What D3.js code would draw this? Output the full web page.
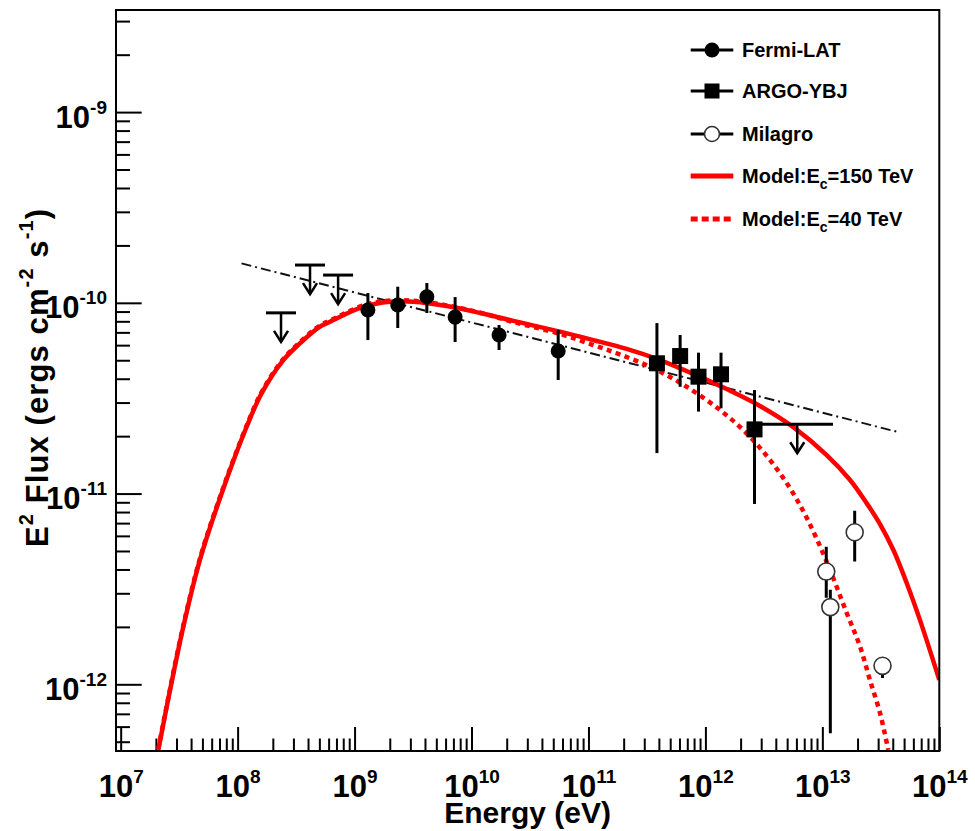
<!DOCTYPE html>
<html><head><meta charset="utf-8">
<script src="https://cdn.jsdelivr.net/npm/d3@7"></script>
<style>
body{margin:0;background:#fff;}
svg{display:block;}
text{font-family:"Liberation Sans",Arial,Helvetica,sans-serif;font-weight:bold;fill:#000;}
</style>
</head><body>
<svg id="c" width="975" height="831"></svg>
<script>
// ---------------- DATA ----------------
const fermiE  = [1.30e9, 2.34e9, 4.15e9, 7.24e9, 1.72e10, 5.51e10];
const fermiF  = [9.17e-11, 9.74e-11, 1.076e-10, 8.42e-11, 6.78e-11, 5.59e-11];
const fermiHi = [1.125e-10, 1.215e-10, 1.27e-10, 1.072e-10, 7.65e-11, 7.20e-11];
const fermiLo = [6.38e-11, 7.38e-11, 8.84e-11, 6.23e-11, 5.66e-11, 3.94e-11];

const fermiUlE = [2.35e8, 4.16e8, 7.23e8];
const fermiUlF = [8.86e-11, 1.578e-10, 1.398e-10];

const argoE  = [3.85e11, 6.08e11, 8.73e11, 1.36e12, 2.63e12];
const argoF  = [4.82e-11, 5.26e-11, 4.10e-11, 4.22e-11, 2.17e-11];
const argoHi = [7.83e-11, 6.78e-11, 5.48e-11, 5.48e-11, 3.49e-11];
const argoLo = [1.63e-11, 3.63e-11, 2.69e-11, 2.80e-11, 8.82e-12];

const argoUlE   = [6.10e12];
const argoUlELo = [3.04e12];
const argoUlEHi = [1.233e13];
const argoUlF   = [2.31e-11];

const milE  = [1.08e13, 1.17e13, 1.89e13, 3.27e13];
const milF  = [3.90e-12, 2.54e-12, 6.27e-12, 1.25e-12];
const milHi = [5.27e-12, 3.13e-12, 8.13e-12, 1.25e-12];
const milLo = [2.84e-12, 5.54e-13, 4.40e-12, 1.08e-12];

const powE = [1.08e8, 4.46e13];
const powF = [1.61e-10, 2.10e-11];

const m150E = [2.10e7, 2.61e7, 3.43e7, 4.76e7, 7.31e7, 1.194e8, 1.606e8, 2.46e8, 3.41e8, 5.06e8, 6.17e8,
  1.19e9, 2.01e9, 3.18e9, 6.14e9, 1.183e10, 2.28e10, 5.72e10, 1.099e11, 2.12e11, 4.09e11, 7.87e11,
  1.52e12, 2.93e12, 5.65e12, 1.089e13, 1.726e13, 2.39e13, 3.11e13, 4.05e13, 5.26e13, 6.84e13, 1.0e14];
const m150F = [4.53e-13, 8.97e-13, 2.00e-12, 4.49e-12, 1.004e-11, 2.24e-11, 3.36e-11, 5.01e-11, 6.13e-11, 7.50e-11, 7.96e-11,
  9.55e-11, 1.014e-10, 1.014e-10, 9.62e-11, 8.85e-11, 8.04e-11, 7.06e-11, 6.38e-11, 5.73e-11, 5.01e-11, 4.24e-11,
  3.53e-11, 2.88e-11, 2.23e-11, 1.592e-11, 1.178e-11, 8.91e-12, 6.92e-12, 5.06e-12, 3.40e-12, 2.17e-12, 1.054e-12];

const m40E = [2.10e7, 2.61e7, 3.43e7, 4.76e7, 7.31e7, 1.194e8, 1.606e8, 2.46e8, 3.41e8, 5.06e8, 6.17e8,
  1.19e9, 2.01e9, 3.18e9, 6.14e9, 1.183e10, 2.28e10, 5.72e10, 1.099e11, 1.862e11, 3.58e11, 6.92e11,
  1.334e12, 2.25e12, 3.56e12, 5.28e12, 7.35e12, 1.089e13, 1.614e13, 2.10e13, 2.55e13, 3.11e13, 3.66e13];
const m40F = [4.60e-13, 9.10e-13, 2.03e-12, 4.56e-12, 1.019e-11, 2.27e-11, 3.41e-11, 5.08e-11, 6.22e-11, 7.61e-11, 8.08e-11,
  9.69e-11, 1.029e-10, 1.025e-10, 9.70e-11, 8.88e-11, 7.93e-11, 6.87e-11, 6.01e-11, 5.36e-11, 4.54e-11, 3.63e-11,
  2.74e-11, 2.07e-11, 1.503e-11, 1.069e-11, 7.46e-12, 4.39e-12, 2.37e-12, 1.578e-12, 1.054e-12, 7.08e-13, 4.53e-13];

const xTickExps = [7, 8, 9, 10, 11, 12, 13, 14];
const yTickExps = [-12, -11, -10, -9];

const legendLabels = [
  ["Fermi-LAT"], ["ARGO-YBJ"], ["Milagro"],
  ["Model:E", "c", "=150 TeV"], ["Model:E", "c", "=40 TeV"]
];
const xTitle = "Energy (eV)";

// ---------------- CHART ----------------
const svg = d3.select("#c");
const L = 116, R = 939.3, T = 10, B = 751;
const x = d3.scaleLog().domain([9.12e6, 1e14]).range([L, R]);
const y = d3.scaleLog().domain([4.47e-13, 3.43e-9]).range([B, T]);

svg.append("defs").append("clipPath").attr("id", "clip")
  .append("rect").attr("x", L).attr("y", T).attr("width", R - L).attr("height", B - T);

// ticks
const xMinor = [];
for (let e = 7; e < 14; e++) for (let m = 2; m < 10; m++) xMinor.push(m * Math.pow(10, e));
const yMinor = [];
for (let e = -13; e <= -9; e++) for (let m = 2; m < 10; m++) {
  const v = m * Math.pow(10, e);
  if (v >= y.domain()[0] && v <= y.domain()[1]) yMinor.push(v);
}
const xMajor = xTickExps.map(e => Math.pow(10, e));
const yMajor = yTickExps.map(e => Math.pow(10, e));

function styleAxis(g) {
  g.select(".domain").remove();
  g.selectAll("line").attr("stroke", "#000").attr("stroke-width", 2);
}
svg.append("g").attr("transform", `translate(0,${B})`)
  .call(d3.axisBottom(x).tickValues(xMinor).tickSizeInner(-12.5).tickSizeOuter(0).tickFormat(""))
  .call(styleAxis);
const gxM = svg.append("g").attr("transform", `translate(0,${B})`)
  .call(d3.axisBottom(x).tickValues(xMajor).tickSizeInner(-24).tickSizeOuter(0).tickFormat(""))
  .call(styleAxis);
gxM.selectAll(".tick text").remove();
gxM.selectAll(".tick").each(function(d, i) {
  const t = d3.select(this).append("text").attr("x", 0).attr("y", 46)
    .attr("text-anchor", "middle").attr("font-size", 31);
  t.append("tspan").text("10");
  t.append("tspan").attr("dy", -14).attr("font-size", 19).text(xTickExps[i]);
});

svg.append("g").attr("transform", `translate(${L},0)`)
  .call(d3.axisLeft(y).tickValues(yMinor).tickSizeInner(-14).tickSizeOuter(0).tickFormat(""))
  .call(styleAxis);
const gyM = svg.append("g").attr("transform", `translate(${L},0)`)
  .call(d3.axisLeft(y).tickValues(yMajor).tickSizeInner(-25.7).tickSizeOuter(0).tickFormat(""))
  .call(styleAxis);
gyM.selectAll(".tick text").remove();
gyM.selectAll(".tick").each(function(d, i) {
  const t = d3.select(this).append("text").attr("x", -9).attr("y", 15)
    .attr("text-anchor", "end").attr("font-size", 31);
  t.append("tspan").text("10");
  t.append("tspan").attr("dy", -14).attr("font-size", 19).text(yTickExps[i]);
});

// plot layer
const plot = svg.append("g").attr("clip-path", "url(#clip)");

// power law (dash-dot)
plot.append("path")
  .attr("d", d3.line().x(d => x(d[0])).y(d => y(d[1]))(d3.zip(powE, powF)))
  .attr("fill", "none").attr("stroke", "#111").attr("stroke-width", 2)
  .attr("stroke-dasharray", "10,4,2,4");

// model curves
const lineGen = d3.line().x(d => x(d[0])).y(d => y(d[1])).curve(d3.curveCatmullRom.alpha(0.5));
plot.append("path").attr("d", lineGen(d3.zip(m150E, m150F)))
  .attr("fill", "none").attr("stroke", "#ff0000").attr("stroke-width", 4.5);
plot.append("path").attr("d", lineGen(d3.zip(m40E, m40F)))
  .attr("fill", "none").attr("stroke", "#ff0000").attr("stroke-width", 4.5)
  .attr("stroke-dasharray", "5,4.5");

// error bars
function errBars(E, Hi, Lo, w) {
  plot.append("g").selectAll("line").data(E).join("line")
    .attr("x1", d => x(d)).attr("x2", d => x(d))
    .attr("y1", (d, i) => y(Hi[i])).attr("y2", (d, i) => y(Lo[i]))
    .attr("stroke", "#000").attr("stroke-width", w);
}
errBars(fermiE, fermiHi, fermiLo, 3);
errBars(argoE, argoHi, argoLo, 3);
errBars(milE, milHi, milLo, 3);

// upper limits
function upperLimit(g, cx, cy, half) {
  if (half) g.append("line").attr("x1", cx - half).attr("x2", cx + half).attr("y1", cy).attr("y2", cy)
    .attr("stroke", "#000").attr("stroke-width", 3);
  const tip = cy + 29;
  g.append("line").attr("x1", cx).attr("x2", cx).attr("y1", cy).attr("y2", tip)
    .attr("stroke", "#000").attr("stroke-width", 2.5);
  g.append("path").attr("d", `M${cx - 7},${tip - 11}L${cx},${tip}L${cx + 7},${tip - 11}`)
    .attr("fill", "none").attr("stroke", "#000").attr("stroke-width", 2.5);
}
const ulG = plot.append("g");
fermiUlE.forEach((e, i) => upperLimit(ulG, x(e), y(fermiUlF[i]), 15));
argoUlE.forEach((e, i) => {
  ulG.append("line").attr("x1", x(argoUlELo[i])).attr("x2", x(argoUlEHi[i]))
    .attr("y1", y(argoUlF[i])).attr("y2", y(argoUlF[i]))
    .attr("stroke", "#000").attr("stroke-width", 3);
  upperLimit(ulG, x(e), y(argoUlF[i]), 0);
});

// markers
plot.append("g").selectAll("circle").data(fermiE).join("circle")
  .attr("cx", d => x(d)).attr("cy", (d, i) => y(fermiF[i])).attr("r", 7.5).attr("fill", "#000");
plot.append("g").selectAll("rect").data(argoE).join("rect")
  .attr("x", d => x(d) - 8).attr("y", (d, i) => y(argoF[i]) - 8)
  .attr("width", 16).attr("height", 16).attr("fill", "#000");
plot.append("g").selectAll("circle").data(milE).join("circle")
  .attr("cx", d => x(d)).attr("cy", (d, i) => y(milF[i])).attr("r", 8.5)
  .attr("fill", "#fff").attr("stroke", "#333").attr("stroke-width", 1.6);

// frame
svg.append("rect").attr("x", L).attr("y", T).attr("width", R - L).attr("height", B - T)
  .attr("fill", "none").attr("stroke", "#000").attr("stroke-width", 2);

// axis titles
svg.append("text").attr("x", (L + R) / 2).attr("y", 823).attr("text-anchor", "middle")
  .attr("font-size", 30).text(xTitle);
const yt = svg.append("text").attr("transform", "translate(48,378) rotate(-90)")
  .attr("text-anchor", "middle").attr("font-size", 31)
  .attr("textLength", 338).attr("lengthAdjust", "spacing");
yt.append("tspan").text("E");
yt.append("tspan").attr("dy", -15).attr("font-size", 20).text("2");
yt.append("tspan").attr("dy", 15).text(" Flux (ergs cm");
yt.append("tspan").attr("dy", -15).attr("font-size", 20).text("-2");
yt.append("tspan").attr("dy", 15).text(" s");
yt.append("tspan").attr("dy", -15).attr("font-size", 20).text("-1");
yt.append("tspan").attr("dy", 15).text(")");

// legend
const lg = svg.append("g");
const rowY = [50, 91, 134, 176, 219];
const lx1 = 690.7, lx2 = 733.3, lcx = 712;
legendLabels.forEach((parts, i) => {
  const cy = rowY[i];
  if (i < 3) {
    lg.append("line").attr("x1", lx1).attr("x2", lx2).attr("y1", cy).attr("y2", cy)
      .attr("stroke", "#000").attr("stroke-width", 3);
  }
  if (i === 0) lg.append("circle").attr("cx", lcx).attr("cy", cy).attr("r", 7.5).attr("fill", "#000");
  if (i === 1) lg.append("rect").attr("x", lcx - 7.5).attr("y", cy - 7.5).attr("width", 15).attr("height", 15).attr("fill", "#000");
  if (i === 2) lg.append("circle").attr("cx", lcx).attr("cy", cy).attr("r", 7.5)
    .attr("fill", "#fff").attr("stroke", "#333").attr("stroke-width", 1.6);
  if (i === 3) lg.append("line").attr("x1", lx1).attr("x2", lx2).attr("y1", cy).attr("y2", cy)
    .attr("stroke", "#ff0000").attr("stroke-width", 5);
  if (i === 4) lg.append("line").attr("x1", lx1).attr("x2", lx2).attr("y1", cy).attr("y2", cy)
    .attr("stroke", "#ff0000").attr("stroke-width", 5).attr("stroke-dasharray", "7,4");
  const t = lg.append("text").attr("x", 742).attr("y", cy + 7).attr("font-size", 20);
  t.append("tspan").text(parts[0]);
  if (parts.length > 1) {
    t.append("tspan").attr("dy", 6).attr("font-size", 14).text(parts[1]);
    t.append("tspan").attr("dy", -6).text(parts[2]);
  }
});
</script>
</body></html>
